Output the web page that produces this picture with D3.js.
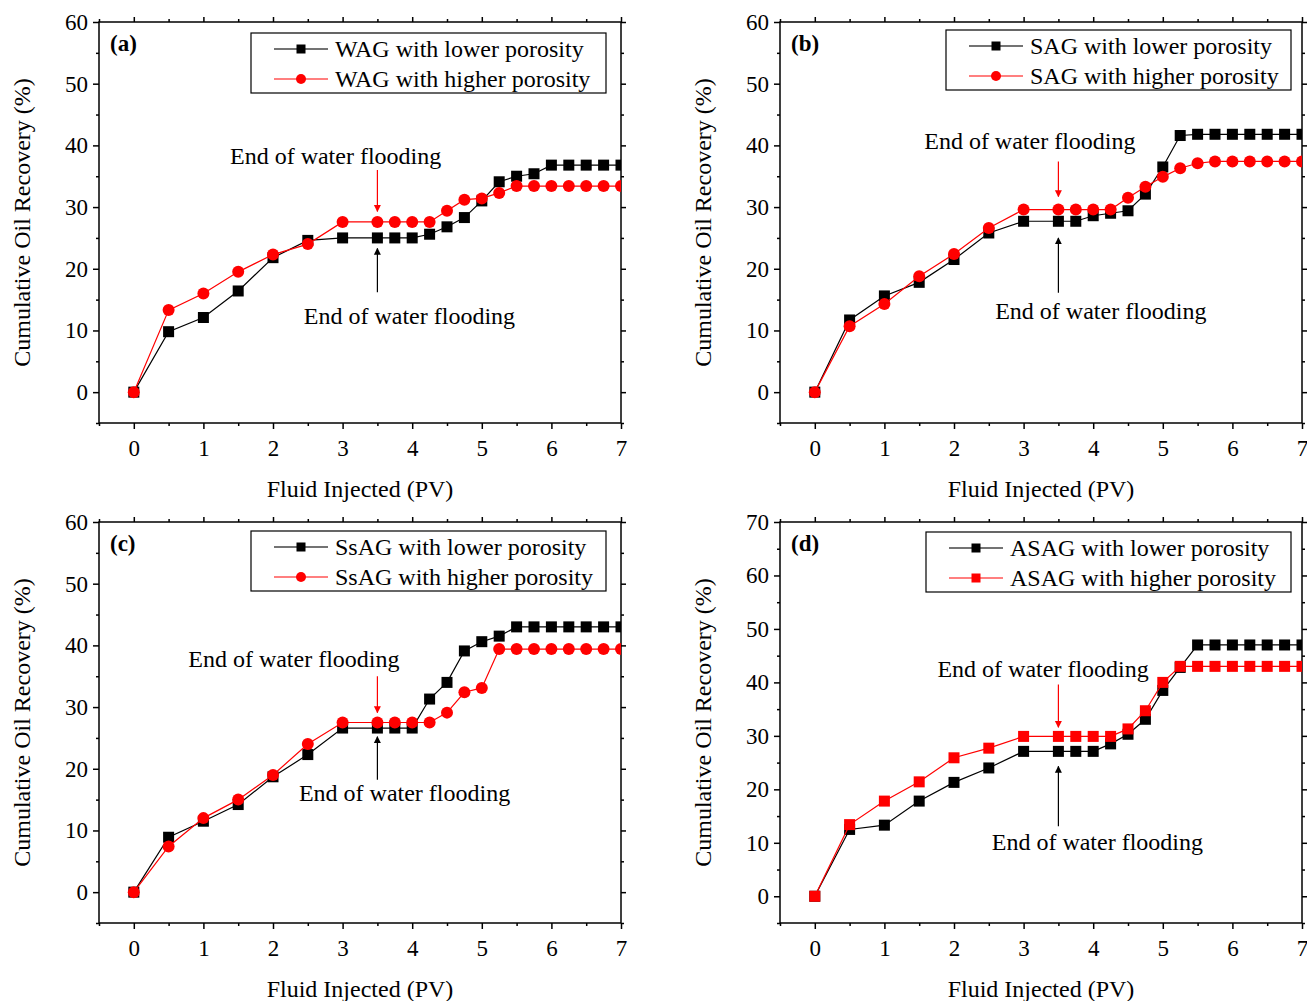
<!DOCTYPE html>
<html>
<head>
<meta charset="utf-8">
<script src="https://cdn.jsdelivr.net/npm/d3@7"></script>
<style>
  body { margin: 0; background: #fff; }
  svg { font-family: "Liberation Serif", "Times New Roman", serif; }
</style>
</head>
<body>
<div id="chart"></div>
<script>
// Pore volumes injected (same sampling for every panel)
const pv = [0, 0.5, 1, 1.5, 2, 2.5, 3, 3.5, 3.75, 4, 4.25, 4.5, 4.75, 5, 5.25, 5.5, 5.75, 6, 6.25, 6.5, 6.75, 7];

// Cumulative oil recovery (%)
const wagLower = [0, 9.8, 12.1, 16.4, 21.8, 24.6, 25.0, 25.0, 25.0, 25.0, 25.6, 26.8, 28.3, 31.0, 34.1, 35.0, 35.4, 36.8, 36.8, 36.8, 36.8, 36.8];
const wagHigher = [0, 13.3, 16.0, 19.5, 22.3, 24.0, 27.6, 27.6, 27.6, 27.6, 27.6, 29.4, 31.2, 31.4, 32.3, 33.4, 33.4, 33.4, 33.4, 33.4, 33.4, 33.4];
const sagLower = [0, 11.7, 15.6, 17.8, 21.5, 25.8, 27.7, 27.7, 27.7, 28.6, 29.0, 29.4, 32.1, 36.5, 41.6, 41.8, 41.8, 41.8, 41.8, 41.8, 41.8, 41.8];
const sagHigher = [0, 10.7, 14.3, 18.8, 22.4, 26.6, 29.6, 29.6, 29.6, 29.6, 29.6, 31.5, 33.3, 34.9, 36.3, 37.1, 37.4, 37.4, 37.4, 37.4, 37.4, 37.4];
const ssagLower = [0, 8.9, 11.5, 14.2, 18.7, 22.3, 26.6, 26.6, 26.6, 26.6, 31.3, 34.0, 39.1, 40.6, 41.5, 43.0, 43.0, 43.0, 43.0, 43.0, 43.0, 43.0];
const ssagHigher = [0, 7.4, 12.0, 15.0, 19.0, 24.0, 27.5, 27.5, 27.5, 27.5, 27.5, 29.1, 32.4, 33.1, 39.4, 39.4, 39.4, 39.4, 39.4, 39.4, 39.4, 39.4];
const asagLower = [0, 12.5, 13.3, 17.8, 21.3, 24.0, 27.1, 27.1, 27.1, 27.1, 28.5, 30.3, 33.1, 38.5, 42.8, 47.0, 47.0, 47.0, 47.0, 47.0, 47.0, 47.0];
const asagHigher = [0, 13.4, 17.8, 21.4, 25.9, 27.7, 29.9, 29.9, 29.9, 29.9, 29.9, 31.3, 34.7, 40.0, 43.0, 43.0, 43.0, 43.0, 43.0, 43.0, 43.0, 43.0];

// Axis ticks
const xTicks = [0, 1, 2, 3, 4, 5, 6, 7];
const yTicks60 = [0, 10, 20, 30, 40, 50, 60];
const yTicks70 = [0, 10, 20, 30, 40, 50, 60, 70];

const LABEL = "End of water flooding";
const FONT = 24;

const svg = d3.select("#chart")
  .append("svg")
  .attr("width", 1307)
  .attr("height", 1001);

const defs = svg.append("defs");
["black", "red"].forEach((c) => {
  defs.append("marker")
    .attr("id", "arrow-" + c)
    .attr("viewBox", "0 0 10 10")
    .attr("refX", 9)
    .attr("refY", 5)
    .attr("markerWidth", 7)
    .attr("markerHeight", 10)
    .attr("markerUnits", "userSpaceOnUse")
    .attr("orient", "auto")
    .append("path")
    .attr("d", "M0,0 L10,5 L0,10 Z")
    .attr("fill", c);
});

const panels = [
  {
    id: "a", tag: "(a)", left: 99, top: 22, lower: wagLower, higher: wagHigher, yMax: 60, yTicks: yTicks60,
    names: ["WAG with lower porosity", "WAG with higher porosity"], redShape: "circle",
    legend: { x: 251, y: 33, w: 355 },
    red: { tx: 2.9, ty: 37.0, a0: 36.0, a1: 29.3 },
    blk: { tx: 3.96, ty: 11.0, a0: 16.2, a1: 23.3 }
  },
  {
    id: "b", tag: "(b)", left: 780, top: 22, lower: sagLower, higher: sagHigher, yMax: 60, yTicks: yTicks60,
    names: ["SAG with lower porosity", "SAG with higher porosity"], redShape: "circle",
    legend: { x: 946, y: 30, w: 345 },
    red: { tx: 3.09, ty: 39.4, a0: 37.4, a1: 31.7 },
    blk: { tx: 4.11, ty: 11.9, a0: 16.1, a1: 25.0 }
  },
  {
    id: "c", tag: "(c)", left: 99, top: 522, lower: ssagLower, higher: ssagHigher, yMax: 60, yTicks: yTicks60,
    names: ["SsAG with lower porosity", "SsAG with higher porosity"], redShape: "circle",
    legend: { x: 251, y: 531, w: 355 },
    red: { tx: 2.3, ty: 36.5, a0: 35.0, a1: 29.1 },
    blk: { tx: 3.89, ty: 14.8, a0: 18.2, a1: 25.2 }
  },
  {
    id: "d", tag: "(d)", left: 780, top: 522, lower: asagLower, higher: asagHigher, yMax: 70, yTicks: yTicks70,
    names: ["ASAG with lower porosity", "ASAG with higher porosity"], redShape: "square",
    legend: { x: 926, y: 532, w: 365 },
    red: { tx: 3.28, ty: 41.0, a0: 39.6, a1: 31.6 },
    blk: { tx: 4.06, ty: 8.7, a0: 13.1, a1: 24.3 }
  }
];

const W = 522, H = 401;

panels.forEach(drawPanel);

function drawPanel(p) {
  const g = svg.append("g").attr("transform", `translate(${p.left},${p.top})`);

  const x = d3.scaleLinear().domain([-0.5, 7]).range([0, W]);
  const y = d3.scaleLinear().domain([-5, p.yMax]).range([H, 0]);

  const xMinor = d3.range(-0.5, 7, 1);
  const yMinor = d3.range(-5, p.yMax, 10);

  // Axes on all four sides, ticks pointing outward
  const axisStyle = (sel) => {
    sel.select(".domain").remove();
    sel.selectAll("line").attr("stroke", "#000").attr("stroke-width", 1.5);
    sel.selectAll("text").attr("font-size", FONT - 1).attr("fill", "#000")
      .attr("font-family", "Liberation Serif, Times New Roman, serif");
  };

  g.append("g").attr("transform", `translate(0,${H})`)
    .call(d3.axisBottom(x).tickValues(xTicks).tickSize(6).tickPadding(11).tickFormat(d3.format("d")))
    .call(axisStyle);
  g.append("g").attr("transform", `translate(0,${H})`)
    .call(d3.axisBottom(x).tickValues(xMinor).tickSize(3).tickFormat(""))
    .call(axisStyle);
  g.append("g")
    .call(d3.axisTop(x).tickValues(xTicks).tickSize(5).tickFormat(""))
    .call(axisStyle);
  g.append("g")
    .call(d3.axisTop(x).tickValues(xMinor).tickSize(3).tickFormat(""))
    .call(axisStyle);

  g.append("g")
    .call(d3.axisLeft(y).tickValues(p.yTicks).tickSize(6).tickPadding(5))
    .call(axisStyle);
  g.append("g")
    .call(d3.axisLeft(y).tickValues(yMinor).tickSize(3).tickFormat(""))
    .call(axisStyle);
  g.append("g").attr("transform", `translate(${W},0)`)
    .call(d3.axisRight(y).tickValues(p.yTicks).tickSize(5).tickFormat(""))
    .call(axisStyle);
  g.append("g").attr("transform", `translate(${W},0)`)
    .call(d3.axisRight(y).tickValues(yMinor).tickSize(3).tickFormat(""))
    .call(axisStyle);

  // Frame
  g.append("rect")
    .attr("width", W).attr("height", H)
    .attr("fill", "none").attr("stroke", "#000").attr("stroke-width", 1.5);

  // Axis titles
  g.append("text")
    .attr("x", W / 2).attr("y", H + 74)
    .attr("text-anchor", "middle")
    .attr("font-size", FONT)
    .text("Fluid Injected (PV)");
  g.append("text")
    .attr("transform", `translate(${-69},${H / 2}) rotate(-90)`)
    .attr("text-anchor", "middle")
    .attr("font-size", FONT)
    .text("Cumulative Oil Recovery (%)");

  // Panel tag
  g.append("text")
    .attr("x", 11).attr("y", 29)
    .attr("font-size", FONT - 1)
    .attr("font-weight", "bold")
    .text(p.tag);

  // Series, clipped to the plot area
  const clipId = "clip-" + p.id;
  defs.append("clipPath").attr("id", clipId)
    .append("rect").attr("width", W).attr("height", H);
  const plot = g.append("g").attr("clip-path", `url(#${clipId})`);

  const line = d3.line().x((d) => x(d[0])).y((d) => y(d[1]));
  const series = [
    { vals: p.lower, color: "#000", shape: "square" },
    { vals: p.higher, color: "#ff0000", shape: p.redShape }
  ];

  series.forEach((s) => {
    const pts = pv.map((v, i) => [v, s.vals[i]]);
    plot.append("path")
      .datum(pts)
      .attr("fill", "none")
      .attr("stroke", s.color)
      .attr("stroke-width", 1.2)
      .attr("d", line);
    drawMarkers(plot, pts, s.shape, s.color, x, y, 11);
  });

  // Annotations
  const ann = [
    { c: "red", a: p.red },
    { c: "black", a: p.blk }
  ];
  ann.forEach((d) => {
    g.append("line")
      .attr("x1", x(3.5)).attr("x2", x(3.5))
      .attr("y1", y(d.a.a0)).attr("y2", y(d.a.a1))
      .attr("stroke", d.c).attr("stroke-width", 1.2)
      .attr("marker-end", `url(#arrow-${d.c})`);
    g.append("text")
      .attr("x", x(d.a.tx)).attr("y", y(d.a.ty))
      .attr("text-anchor", "middle")
      .attr("font-size", FONT)
      .text(LABEL);
  });

  // Legend
  const lg = svg.append("g").attr("transform", `translate(${p.legend.x},${p.legend.y})`);
  lg.append("rect")
    .attr("width", p.legend.w).attr("height", 60)
    .attr("fill", "#fff").attr("stroke", "#000").attr("stroke-width", 1.2);
  const legendRows = [
    { name: p.names[0], color: "#000", lineColor: "#444", shape: "square" },
    { name: p.names[1], color: "#ff0000", lineColor: "#ff5555", shape: p.redShape }
  ];
  legendRows.forEach((r, i) => {
    const ry = 16 + i * 30;
    lg.append("line")
      .attr("x1", 23).attr("x2", 77)
      .attr("y1", ry).attr("y2", ry)
      .attr("stroke", r.lineColor).attr("stroke-width", 1.5);
    drawMarkers(lg, [[50, ry]], r.shape, r.color, (v) => v, (v) => v, 9);
    lg.append("text")
      .attr("x", 84).attr("y", ry + 8)
      .attr("font-size", FONT)
      .text(r.name);
  });
}

function drawMarkers(parent, pts, shape, color, sx, sy, size) {
  if (shape === "circle") {
    parent.selectAll(null).data(pts).enter().append("circle")
      .attr("cx", (d) => sx(d[0])).attr("cy", (d) => sy(d[1]))
      .attr("r", size / 2 + 0.5)
      .attr("fill", color);
  } else {
    parent.selectAll(null).data(pts).enter().append("rect")
      .attr("x", (d) => sx(d[0]) - size / 2).attr("y", (d) => sy(d[1]) - size / 2)
      .attr("width", size).attr("height", size)
      .attr("fill", color);
  }
}
</script>
</body>
</html>
